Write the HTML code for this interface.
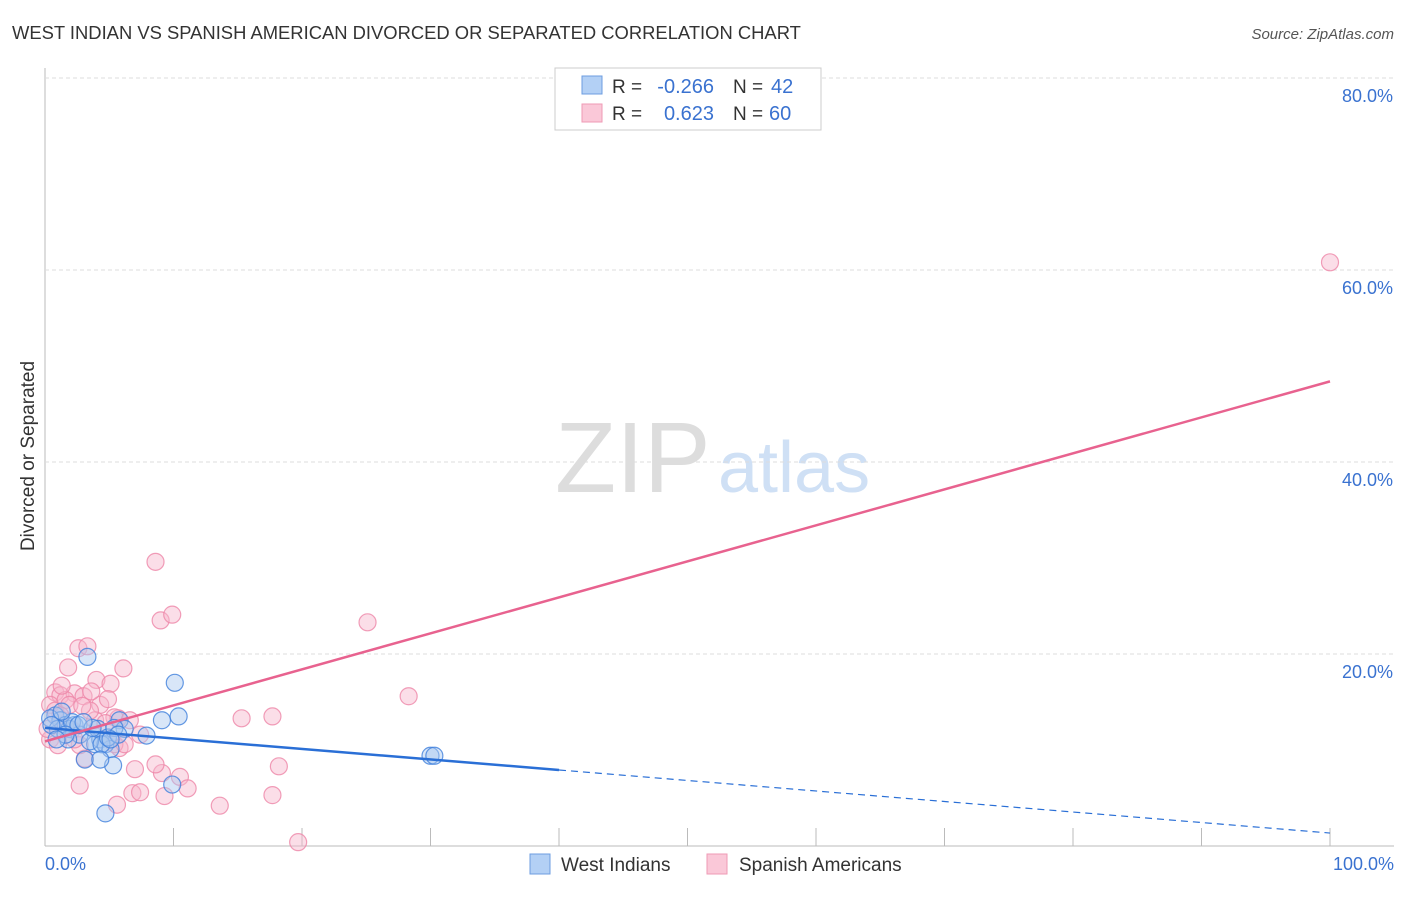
<!DOCTYPE html>
<html><head><meta charset="utf-8"><style>
body{margin:0;background:#fff;font-family:"Liberation Sans",sans-serif}
svg text{font-family:"Liberation Sans",sans-serif}
</style></head><body>
<svg id="c" width="1406" height="892" xmlns="http://www.w3.org/2000/svg">
<text x="12" y="39" font-size="18.4" fill="#333">WEST INDIAN VS SPANISH AMERICAN DIVORCED OR SEPARATED CORRELATION CHART</text>
<text x="1394" y="39" font-size="15" fill="#555" font-style="italic" text-anchor="end">Source: ZipAtlas.com</text>
<text x="34" y="456" font-size="19" fill="#333" text-anchor="middle" transform="rotate(-90 34 456)">Divorced or Separated</text>
<text x="555" y="492" font-size="100" fill="#ddd" font-family="Liberation Serif">ZIP</text>
<text x="718" y="492" font-size="72" fill="#cfe0f5">atlas</text>
<g id="grid"></g><g id="pts"></g><g id="lines"></g>
<g>
<rect x="555" y="68" width="266" height="62" fill="#fff" stroke="#ccc"/>
<rect x="582" y="76" width="20" height="18" fill="#b3d0f5" stroke="#6c9de0"/>
<rect x="582" y="104" width="20" height="18" fill="#fac8d8" stroke="#ef9ab5"/>
<text x="612" y="93" font-size="19" fill="#333">R =</text>
<text x="714" y="93" font-size="20" fill="#3a72d0" text-anchor="end">-0.266</text>
<text x="733" y="93" font-size="19" fill="#333">N =</text>
<text x="771" y="93" font-size="20" fill="#3a72d0">42</text>
<text x="612" y="120" font-size="19" fill="#333">R =</text>
<text x="714" y="120" font-size="20" fill="#3a72d0" text-anchor="end">0.623</text>
<text x="733" y="120" font-size="19" fill="#333">N =</text>
<text x="769" y="120" font-size="20" fill="#3a72d0">60</text>
</g>
<g>
<rect x="530" y="854" width="20" height="20" fill="#b3d0f5" stroke="#6c9de0"/>
<text x="561" y="871" font-size="19" fill="#333">West Indians</text>
<rect x="707" y="854" width="20" height="20" fill="#fac8d8" stroke="#ef9ab5"/>
<text x="739" y="871" font-size="19" fill="#333">Spanish Americans</text>
</g>
<text x="45" y="870" font-size="18" fill="#3a72d0">0.0%</text>
<text x="1394" y="870" font-size="18" fill="#3a72d0" text-anchor="end">100.0%</text>
</svg>
<script>
const yTicks=[20,40,60,80];
const xTicks=[10,20,30,40,50,60,70,80,90,100];
const blueX=[0.8,1.2,1.6,1.9,2.3,2.7,3.3,3.9,4.3,4.7,5.1,5.3,5.8,4.7,6.2,7.9,9.1,10.1,10.4,9.9,30,30.3,0.4,1.0,1.8,2.1,3.1,3.5,4.1,4.4,4.9,5.4,1.3,0.5,2.6,3.7,4.3,5.7,1.6,0.9,3.0,5.1];
const blueY=[13.6,13.1,12.6,12.2,12.6,11.6,19.7,10.6,11.1,10.6,10.1,8.4,13.1,3.4,12.2,11.5,13.1,17.0,13.5,6.4,9.4,9.4,13.3,12.2,11.1,12.9,9.0,10.9,12.2,10.6,11.3,12.3,14.0,12.6,12.6,12.3,9.0,11.6,11.6,11.1,12.9,11.1];
const pinkX=[8.6,9.0,9.9,25.1,100,28.3,2.6,3.3,1.8,6.1,4.0,5.1,0.8,1.2,2.3,3.0,15.3,17.7,5.7,5.4,5.8,3.1,2.7,2.7,7.0,9.1,10.5,11.1,6.8,7.4,9.3,5.6,13.6,17.7,18.2,19.7,8.6,0.4,0.8,1.6,1.9,1.2,2.1,4.3,3.9,3.5,0.4,1.0,1.6,4.7,5.4,6.2,6.6,7.4,2.9,3.6,0.2,1.3,4.9,2.3];
const pinkY=[29.6,23.5,24.1,23.3,60.8,15.6,20.6,20.8,18.6,18.5,17.3,16.9,16.0,15.7,15.9,15.6,13.3,13.5,13.3,13.4,10.2,9.1,6.3,10.5,8.0,7.6,7.2,6.0,5.5,5.6,5.2,4.3,4.2,5.3,8.3,0.4,8.5,14.7,14.1,15.2,14.7,13.6,12.1,14.7,13.1,14.1,11.1,10.5,12.3,12.8,10.6,10.6,13.1,11.6,14.6,16.1,12.2,16.7,15.3,11.1];
const blueFit=[12.3,1.35], pinkFit=[10.9,48.4];
const X=v=>45+v*12.85, Y=v=>846-v*9.6;
const NS="http://www.w3.org/2000/svg";
function mk(tag,attrs,parent){const e=document.createElementNS(NS,tag);for(const k in attrs)e.setAttribute(k,attrs[k]);document.getElementById(parent).appendChild(e);return e;}
let ax=mk('line',{x1:45,y1:68,x2:45,y2:846,stroke:'#bbb'},'grid');


let bx=mk('line',{x1:45,y1:846,x2:1394,y2:846,stroke:'#bbb'},'grid');


yTicks.forEach(t=>{
 let g=mk('line',{x1:45,x2:1394,y1:Y(t),y2:Y(t),stroke:'#ddd','stroke-dasharray':'4,3'},'grid');
 
 
 let l=mk('text',{x:1393,y:Y(t)+24,'font-size':18,fill:'#3a72d0','text-anchor':'end'},'grid');
 l.textContent=t.toFixed(1)+'%';
 
 
});
xTicks.forEach(t=>{
 let k=mk('line',{x1:X(t),x2:X(t),y1:828,y2:846,stroke:'#bbb'},'grid');
 
 
});
function pts(xs,ys,fill,stroke,name){xs.forEach((x,i)=>{
 let c=mk('circle',{cx:X(x),cy:Y(ys[i]),r:8.5,fill:fill,'fill-opacity':0.45,stroke:stroke,'stroke-width':1.2,'stroke-opacity':0.8},'pts');
 
 
});}
pts(pinkX,pinkY,'#f7b6cb','#ee86a8','spanish-american-point');
pts(blueX,blueY,'#a9c8f0','#3f7fdc','west-indian-point');
const yb=x=>blueFit[0]+(blueFit[1]-blueFit[0])*x/100;
let l1=mk('line',{x1:X(0),y1:Y(yb(0)),x2:X(40),y2:Y(yb(40)),stroke:'#2a6fd6','stroke-width':2.5},'lines');


let l2=mk('line',{x1:X(40),y1:Y(yb(40)),x2:X(100),y2:Y(yb(100)),stroke:'#2a6fd6','stroke-width':1.2,'stroke-dasharray':'7,5'},'lines');


let l3=mk('line',{x1:X(0),y1:Y(pinkFit[0]),x2:X(100),y2:Y(pinkFit[1]),stroke:'#e8628f','stroke-width':2.5},'lines');


</script>
</body></html>
